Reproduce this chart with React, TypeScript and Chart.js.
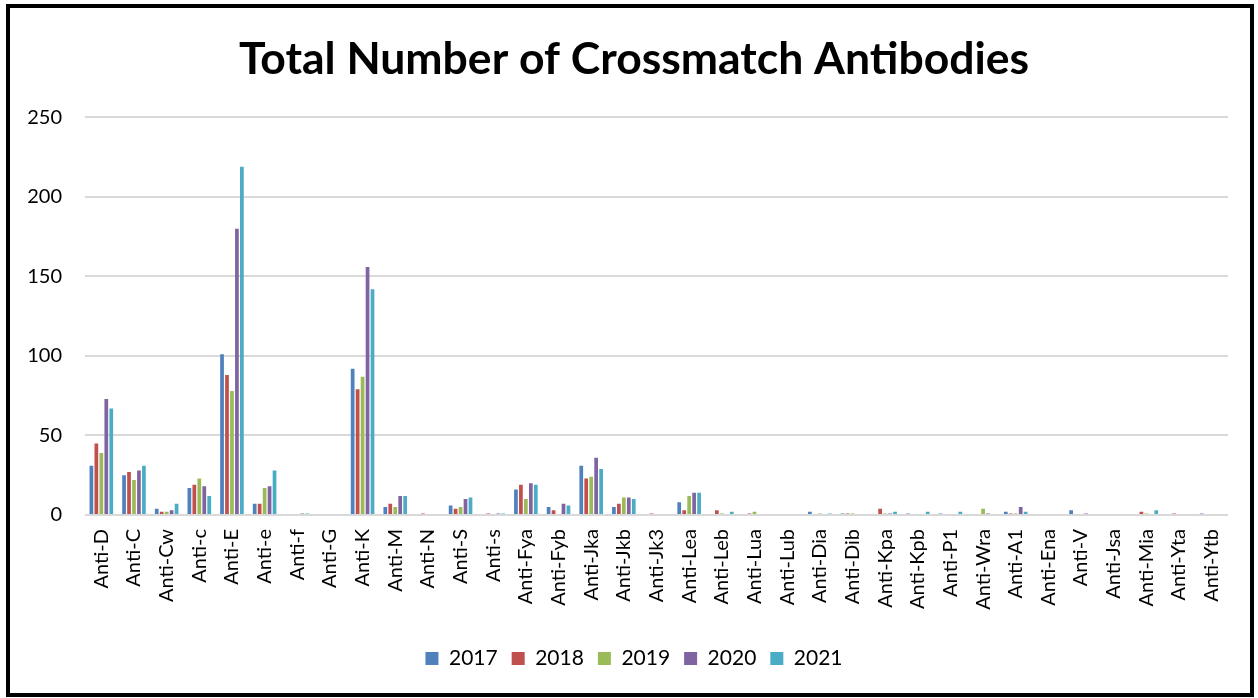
import React, { useEffect, useRef } from "react";
import { Chart, registerables } from "chart.js";

Chart.register(...registerables);

const categories: string[] = [
  "Anti-D", "Anti-C", "Anti-Cw", "Anti-c", "Anti-E", "Anti-e", "Anti-f", "Anti-G", "Anti-K", "Anti-M",
  "Anti-N", "Anti-S", "Anti-s", "Anti-Fya", "Anti-Fyb", "Anti-Jka", "Anti-Jkb", "Anti-Jk3", "Anti-Lea", "Anti-Leb",
  "Anti-Lua", "Anti-Lub", "Anti-Dia", "Anti-Dib", "Anti-Kpa", "Anti-Kpb", "Anti-P1", "Anti-Wra", "Anti-A1", "Anti-Ena",
  "Anti-V", "Anti-Jsa", "Anti-Mia", "Anti-Yta", "Anti-Ytb",
];

const years: string[] = ["2017", "2018", "2019", "2020", "2021"];

const values2017: number[] = [31, 25, 4, 17, 101, 7, 0, 0, 92, 5, 0, 6, 0, 16, 5, 31, 5, 0, 8, 0, 0, 0, 2, 1, 0, 1, 1, 0, 2, 0, 3, 0, 0, 0, 1];
const values2018: number[] = [45, 27, 2, 19, 88, 7, 0, 0, 79, 7, 1, 4, 1, 19, 3, 23, 7, 1, 3, 3, 1, 0, 0, 1, 4, 0, 0, 0, 1, 0, 0, 0, 2, 1, 0];
const values2019: number[] = [39, 22, 2, 23, 78, 17, 0, 0, 87, 5, 0, 5, 0, 10, 0, 24, 11, 0, 12, 1, 2, 0, 1, 1, 1, 0, 0, 4, 1, 0, 0, 0, 1, 0, 0];
const values2020: number[] = [73, 28, 3, 18, 180, 18, 1, 0, 156, 12, 0, 10, 1, 20, 7, 36, 11, 0, 14, 0, 0, 0, 0, 0, 1, 0, 0, 1, 5, 0, 1, 0, 0, 0, 0];
const values2021: number[] = [67, 31, 7, 12, 219, 28, 1, 0, 142, 12, 0, 11, 1, 19, 6, 29, 10, 0, 14, 2, 0, 0, 1, 0, 2, 2, 2, 0, 2, 0, 0, 0, 3, 0, 0];

const yTicks: number[] = [0, 50, 100, 150, 200, 250];
const title = "Total Number of Crossmatch Antibodies";
const colors: string[] = ["#4F81BD", "#C0504D", "#9BBB59", "#8064A2", "#4BACC6"];

const FONT = "Lato, 'Open Sans', sans-serif";

export default function App() {
  const canvasRef = useRef<HTMLCanvasElement | null>(null);

  useEffect(() => {
    const canvas = canvasRef.current;
    if (!canvas) return;
    const ctx2d = canvas.getContext("2d");
    let widest = 35;
    if (ctx2d) {
      ctx2d.font = `20px ${FONT}`;
      widest = Math.max(...yTicks.map((v) => ctx2d.measureText(String(v)).width));
    }
    const chartLeft = 85;
    const padLeft = 40;
    const labelRight = 62;
    const series = [values2017, values2018, values2019, values2020, values2021];
    const chart = new Chart(canvas, {
      type: "bar",
      data: {
        labels: categories,
        datasets: series.map((vals, i) => ({
          label: years[i],
          data: vals,
          backgroundColor: colors[i],
          borderWidth: 0,
          categoryPercentage: 0.76,
          barPercentage: 0.75,
        })),
      },
      options: {
        responsive: false,
        animation: false,
        maintainAspectRatio: false,
        layout: { padding: { left: padLeft, right: 30, top: 0, bottom: 19 } },
        plugins: {
          title: {
            display: true,
            text: title,
            color: "#000",
            font: { family: FONT, size: 44.5, weight: "bold" },
            padding: { top: 33, bottom: 31 },
          },
          legend: {
            display: true,
            position: "bottom",
            labels: {
              color: "#000",
              font: { family: FONT, size: 21 },
              boxWidth: 13,
              boxHeight: 13,
              padding: 14,
            },
          },
          tooltip: { enabled: false },
        },
        scales: {
          x: {
            grid: { display: false, drawTicks: false },
            border: { display: false },
            ticks: {
              autoSkip: false,
              minRotation: 90,
              maxRotation: 90,
              color: "#000",
              font: { family: FONT, size: 20 },
              padding: 14,
            },
            afterFit: (scale: any) => {
              scale.height = 119;
            },
          },
          y: {
            min: 0,
            max: 250,
            afterBuildTicks: (scale: any) => {
              scale.ticks = yTicks.map((v) => ({ value: v }));
            },
            grid: { color: "#d9d9d9", lineWidth: 2, drawTicks: false },
            border: { display: false },
            ticks: {
              color: "#000",
              font: { family: FONT, size: 20 },
              mirror: true,
              crossAlign: "far",
              padding: labelRight - chartLeft - widest,
            },
            afterFit: (scale: any) => {
              scale.width = chartLeft - padLeft;
            },
          },
        },
      },
    });
    return () => chart.destroy();
  }, []);

  return (
    <div style={{ position: "fixed", left: 0, top: 0, width: 1258, height: 698, background: "#fff", overflow: "hidden" }}>
      <canvas ref={canvasRef} width={1258} height={698} style={{ position: "absolute", left: 0, top: 0 }} />
      <div
        style={{
          position: "absolute",
          left: 6,
          top: 4,
          width: 1248,
          height: 693,
          border: "4px solid #000",
          boxSizing: "border-box",
          pointerEvents: "none",
        }}
      />
    </div>
  );
}
